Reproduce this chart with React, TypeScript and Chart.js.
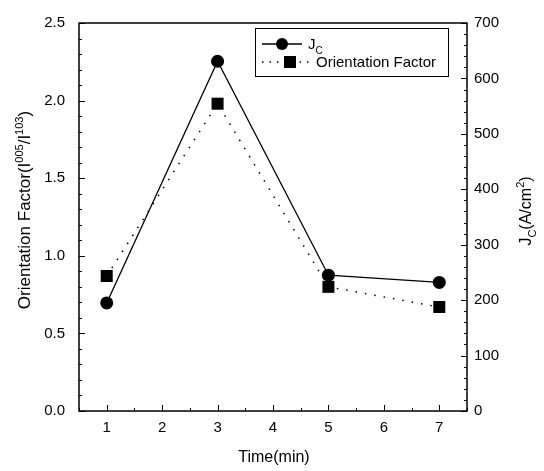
import { useEffect, useRef } from "react";
import { Chart, registerables } from "chart.js";

Chart.register(...registerables);

const timeMin = [1, 3, 5, 7];
const jcValues = [195, 631, 245, 232];
const orientationValues = [0.87, 1.98, 0.8, 0.67];
const xTickValues = [1, 2, 3, 4, 5, 6, 7];
const leftTickValues = [0, 0.5, 1, 1.5, 2, 2.5];
const rightTickValues = [0, 100, 200, 300, 400, 500, 600, 700];

const FONT = "'Liberation Sans', Arial, sans-serif";

type Run = { t: string; sup?: boolean; sub?: boolean };

function drawRuns(ctx: CanvasRenderingContext2D, runs: Run[], size: number, x: number, y: number, center: boolean) {
  const small = Math.round(size * 0.66);
  const widths = runs.map((r) => {
    ctx.font = `${r.sup || r.sub ? small : size}px ${FONT}`;
    return ctx.measureText(r.t).width;
  });
  const total = widths.reduce((a, b) => a + b, 0);
  let cx = center ? x - total / 2 : x;
  runs.forEach((r, i) => {
    ctx.font = `${r.sup || r.sub ? small : size}px ${FONT}`;
    const dy = r.sup ? -size * 0.42 : r.sub ? size * 0.3 : 0;
    ctx.fillText(r.t, cx, y + dy);
    cx += widths[i];
  });
}

const decorPlugin = {
  id: "decor",
  afterDraw(chart: any) {
    const ctx: CanvasRenderingContext2D = chart.ctx;
    const { left, right, top, bottom } = chart.chartArea;
    const xs = chart.scales.x;
    const ys = chart.scales.y;
    const y1 = chart.scales.y1;
    ctx.save();
    ctx.strokeStyle = "#000";
    ctx.fillStyle = "#000";
    ctx.lineWidth = 1.5;
    ctx.strokeRect(left, top, right - left, bottom - top);
    ctx.lineWidth = 1;
    ctx.beginPath();
    for (let v = 0.5; v <= 7.5001; v += 0.5) {
      const px = Math.round(xs.getPixelForValue(v)) + 0.5;
      const len = Math.abs(v - Math.round(v)) < 1e-6 ? 6 : 3;
      ctx.moveTo(px, bottom);
      ctx.lineTo(px, bottom - len);
    }
    for (let i = 0; i <= 25; i++) {
      const v = i / 10;
      const py = Math.round(ys.getPixelForValue(v)) + 0.5;
      const len = i % 5 === 0 ? 6 : 3;
      ctx.moveTo(left, py);
      ctx.lineTo(left + len, py);
    }
    for (let v = 0; v <= 700; v += 20) {
      const py = Math.round(y1.getPixelForValue(v)) + 0.5;
      const len = v % 100 === 0 ? 6 : 3;
      ctx.moveTo(right, py);
      ctx.lineTo(right - len, py);
    }
    ctx.stroke();

    // axis titles
    ctx.textBaseline = "alphabetic";
    ctx.textAlign = "left";
    drawRuns(ctx, [{ t: "Time(min)" }], 16, 274, 462, true);

    ctx.save();
    ctx.translate(30, 210);
    ctx.rotate(-Math.PI / 2);
    drawRuns(
      ctx,
      [{ t: "Orientation Factor(I" }, { t: "005", sup: true }, { t: "/I" }, { t: "103", sup: true }, { t: ")" }],
      17,
      0,
      0,
      true
    );
    ctx.restore();

    ctx.save();
    ctx.translate(531, 211);
    ctx.rotate(-Math.PI / 2);
    drawRuns(ctx, [{ t: "J" }, { t: "C", sub: true }, { t: "(A/cm" }, { t: "2", sup: true }, { t: ")" }], 16, 0, 0, true);
    ctx.restore();

    // legend
    const lx = 255, ly = 28, lw = 193, lh = 48;
    ctx.lineWidth = 1;
    ctx.strokeRect(lx + 0.5, ly + 0.5, lw, lh);
    // entry 1
    const e1y = 44;
    ctx.lineWidth = 1.3;
    ctx.beginPath();
    ctx.moveTo(262, e1y);
    ctx.lineTo(302, e1y);
    ctx.stroke();
    ctx.beginPath();
    ctx.arc(282, e1y, 6, 0, Math.PI * 2);
    ctx.fill();
    drawRuns(ctx, [{ t: "J" }, { t: "C", sub: true }], 15, 308, e1y + 5, false);
    // entry 2
    const e2y = 62;
    ctx.setLineDash([1.5, 6]);
    ctx.lineWidth = 1.5;
    ctx.beginPath();
    ctx.moveTo(262, e2y);
    ctx.lineTo(312, e2y);
    ctx.stroke();
    ctx.setLineDash([]);
    ctx.fillRect(284, e2y - 6, 12, 12);
    drawRuns(ctx, [{ t: "Orientation Factor" }], 15, 316, e2y + 5, false);
    ctx.restore();
  },
};

export default function App() {
  const ref = useRef<HTMLCanvasElement>(null);
  useEffect(() => {
    const canvas = ref.current;
    if (!canvas) return;
    const chart = new Chart(canvas, {
      type: "line",
      data: {
        datasets: [
          {
            label: "JC",
            data: timeMin.map((x, i) => ({ x, y: jcValues[i] })),
            yAxisID: "y1",
            borderColor: "#000",
            backgroundColor: "#000",
            borderWidth: 1.3,
            pointStyle: "circle",
            pointRadius: 6.5,
            pointBorderWidth: 0,
          },
          {
            label: "Orientation Factor",
            data: timeMin.map((x, i) => ({ x, y: orientationValues[i] })),
            yAxisID: "y",
            borderColor: "#000",
            backgroundColor: "#000",
            borderWidth: 1.5,
            borderDash: [1.5, 8],
            pointStyle: "rect",
            pointRadius: 8.5,
            pointBorderWidth: 0,
          },
        ],
      },
      options: {
        responsive: false,
        animation: false,
        layout: { padding: { top: 13 } },
        plugins: { legend: { display: false }, tooltip: { enabled: false } },
        scales: {
          x: {
            type: "linear",
            min: 0.5,
            max: 7.5,
            afterBuildTicks: (s: any) => {
              s.ticks = xTickValues.map((v) => ({ value: v }));
            },
            afterFit: (s: any) => {
              s.height = 60;
            },
            grid: { display: false, drawTicks: false },
            border: { display: false },
            ticks: {
              color: "#000",
              padding: 8,
              font: { family: FONT, size: 15 },
              autoSkip: false,
              maxRotation: 0,
              callback: (v: any) => String(v),
            },
          },
          y: {
            type: "linear",
            position: "left",
            min: 0,
            max: 2.5,
            afterBuildTicks: (s: any) => {
              s.ticks = leftTickValues.map((v) => ({ value: v }));
            },
            afterFit: (s: any) => {
              s.width = 79;
            },
            grid: { display: false, drawTicks: false },
            border: { display: false },
            ticks: {
              color: "#000",
              padding: 14,
              font: { family: FONT, size: 15 },
              callback: (v: any) => Number(v).toFixed(1),
            },
          },
          y1: {
            type: "linear",
            position: "right",
            min: 0,
            max: 700,
            afterBuildTicks: (s: any) => {
              s.ticks = rightTickValues.map((v) => ({ value: v }));
            },
            afterFit: (s: any) => {
              s.width = 77;
            },
            grid: { display: false, drawTicks: false },
            border: { display: false },
            ticks: {
              color: "#000",
              padding: 7,
              font: { family: FONT, size: 15 },
              callback: (v: any) => String(v),
            },
          },
        },
      },
      plugins: [decorPlugin],
    } as any);
    return () => chart.destroy();
  }, []);
  return (
    <div style={{ position: "fixed", left: 0, top: 0, width: 544, height: 471, background: "#fff" }}>
      <canvas ref={ref} width={544} height={471} />
    </div>
  );
}
